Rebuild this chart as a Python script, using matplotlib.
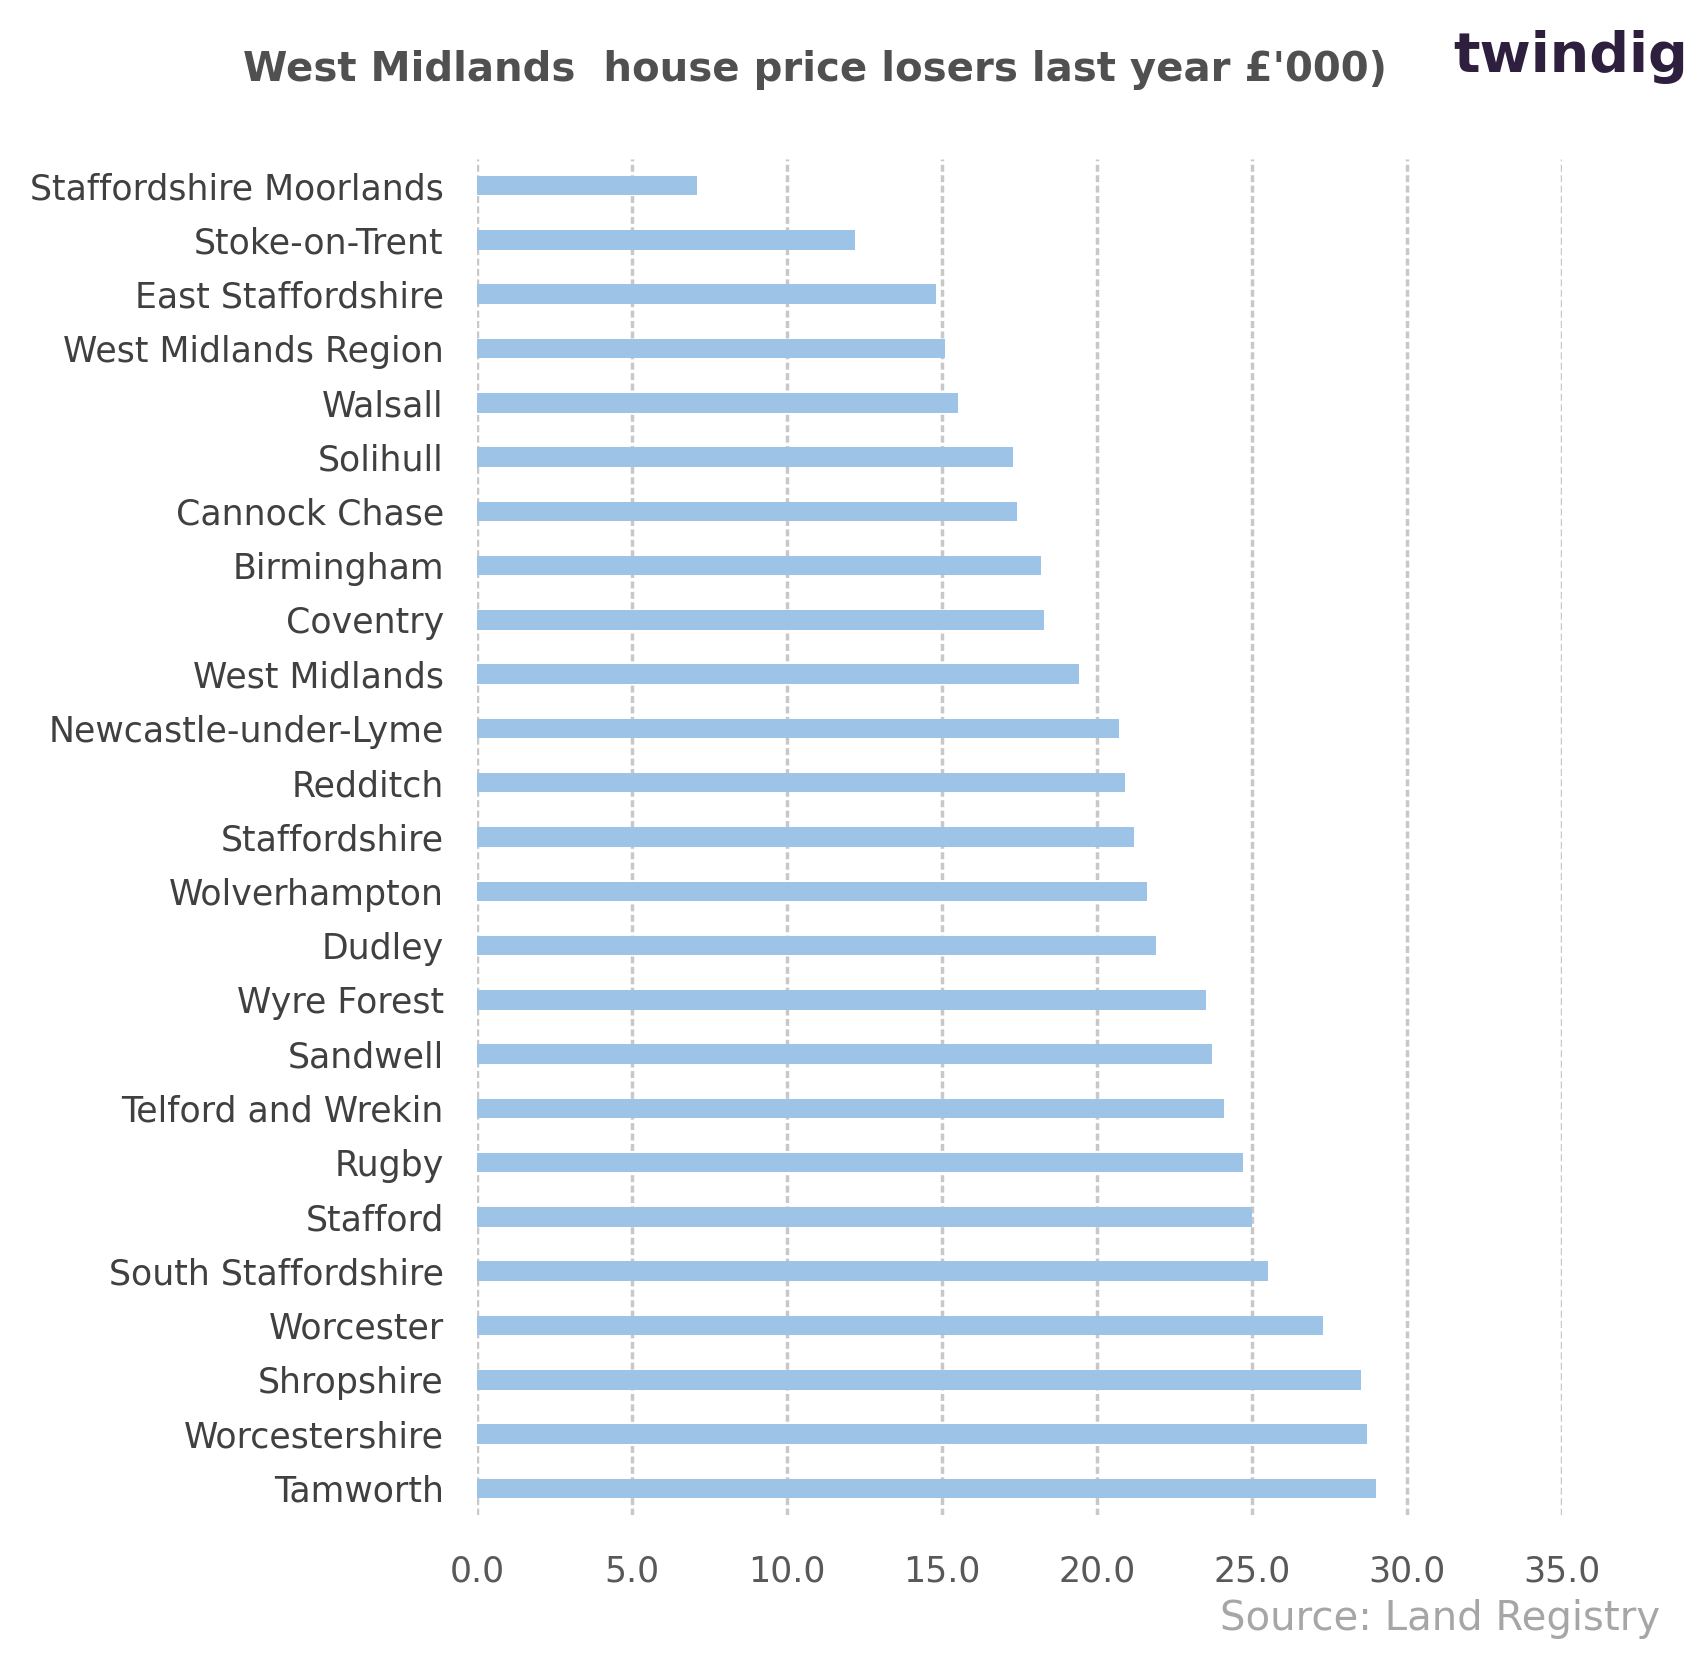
import matplotlib.pyplot as plt

areas = ["Staffordshire Moorlands", "Stoke-on-Trent", "East Staffordshire",
         "West Midlands Region", "Walsall", "Solihull", "Cannock Chase",
         "Birmingham", "Coventry", "West Midlands", "Newcastle-under-Lyme",
         "Redditch", "Staffordshire", "Wolverhampton", "Dudley", "Wyre Forest",
         "Sandwell", "Telford and Wrekin", "Rugby", "Stafford",
         "South Staffordshire", "Worcester", "Shropshire", "Worcestershire",
         "Tamworth"]
losses = [7.1, 12.2, 14.8, 15.1, 15.5, 17.3, 17.4, 18.2, 18.3, 19.4, 20.7,
          20.9, 21.2, 21.6, 21.9, 23.5, 23.7, 24.1, 24.7, 25.0, 25.5, 27.3,
          28.5, 28.7, 29.0]
xticks = [0, 5, 10, 15, 20, 25, 30, 35]

fig = plt.figure(figsize=(16.98, 16.69), dpi=100)
ax = fig.add_axes([0.281, 0.092, 0.639, 0.813])
y = list(range(len(areas)))[::-1]
ax.barh(y, losses, height=0.36, color="#9dc3e6", zorder=3)
ax.set_ylim(-0.5, len(areas) - 0.5)
ax.set_xlim(0, 35)
ax.set_yticks(y)
ax.set_yticklabels(areas, fontsize=25, color="#404040")
ax.set_xticks(xticks)
ax.set_xticklabels([f"{t:.1f}" for t in xticks], fontsize=25, color="#595959")
ax.tick_params(length=0, pad=24)
ax.tick_params(axis="x", pad=28)
ax.grid(axis="x", color="#c8c8c8", linestyle=(0, (2, 1)), linewidth=2.5, zorder=0)
for s in ax.spines.values():
    s.set_visible(False)

fig.text(0.48, 0.958, "West Midlands  house price losers last year £'000)",
         ha="center", va="center", fontsize=29, fontweight="bold", color="#505050")
fig.text(0.856, 0.966, "twindig", ha="left", va="center", fontsize=40,
         fontweight="bold", color="#2d1f3d")
fig.text(0.978, 0.030, "Source: Land Registry", ha="right", va="center",
         fontsize=29, color="#a6a6a6")

fig.savefig("out.png")
